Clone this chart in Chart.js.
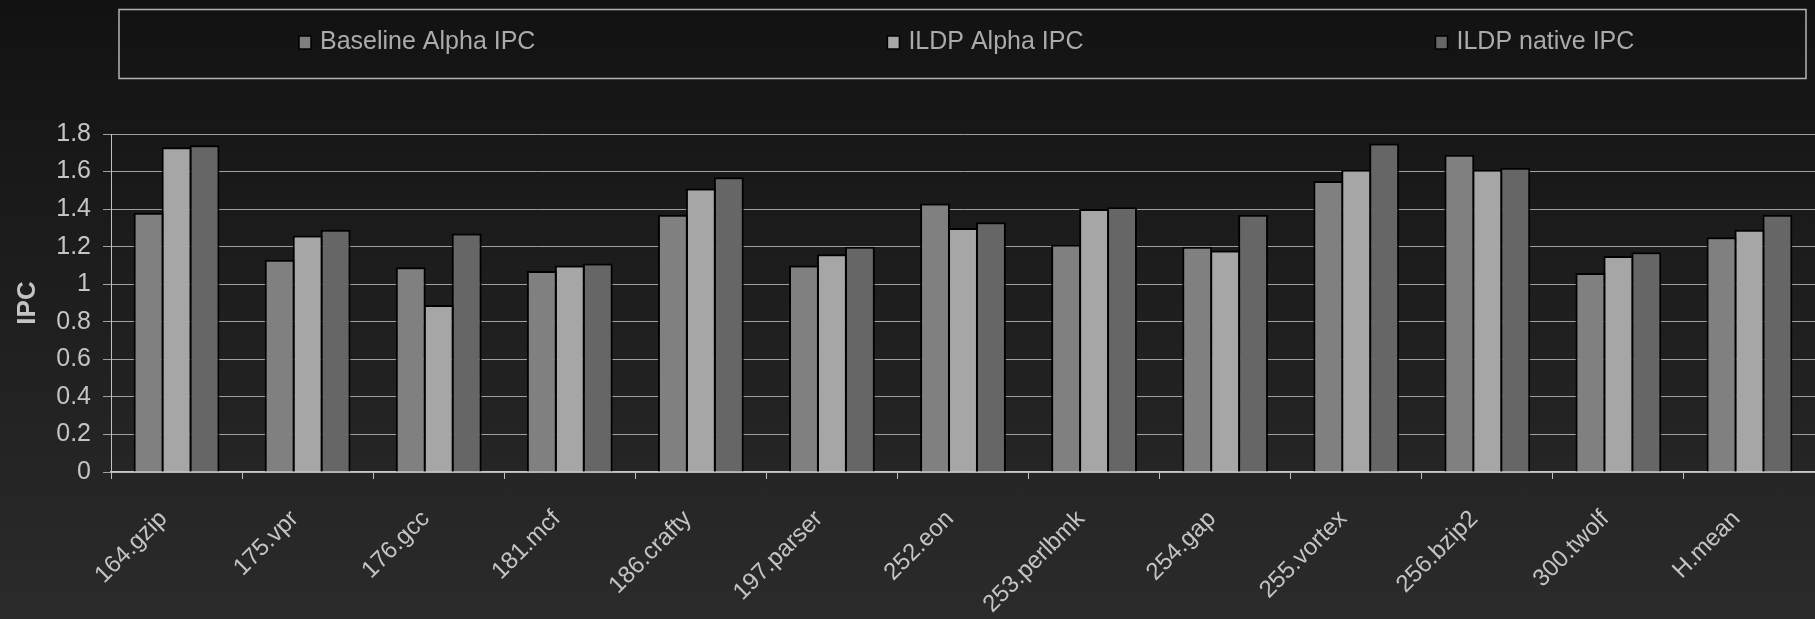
<!DOCTYPE html>
<html lang="en">
<head>
  <meta charset="UTF-8">
  <title>IPC</title>
  <script src="https://cdn.jsdelivr.net/npm/chart.js"></script>
  <style>
    html, body { margin: 0; padding: 0; }
    body {
      width: 1815px;
      height: 619px;
      overflow: hidden;
      background: linear-gradient(#121212, #2b2b2b);
    }
  </style>
</head>
<body>
  <canvas id="chart" width="1815" height="619"></canvas>

  <script>
    // Benchmarks and IPC values per configuration
    const benchmarks = ['164.gzip', '175.vpr', '176.gcc', '181.mcf', '186.crafty', '197.parser', '252.eon',
      '253.perlbmk', '254.gap', '255.vortex', '256.bzip2', '300.twolf', 'H.mean'];
    const baselineAlpha = [1.38, 1.13, 1.09, 1.07, 1.37, 1.10, 1.43, 1.21, 1.20, 1.55, 1.69, 1.06, 1.25];
    const ildpAlpha     = [1.73, 1.26, 0.89, 1.10, 1.51, 1.16, 1.30, 1.40, 1.18, 1.61, 1.61, 1.15, 1.29];
    const ildpNative    = [1.74, 1.29, 1.27, 1.11, 1.57, 1.20, 1.33, 1.41, 1.37, 1.75, 1.62, 1.17, 1.37];
    const seriesNames   = ['Baseline Alpha IPC', 'ILDP Alpha IPC', 'ILDP native IPC'];
    const seriesColors  = ['#808080', '#a6a6a6', '#666666'];

    const FONT = '"Liberation Sans", Arial, sans-serif';
    const TEXT = '#c4c4c4';

    // legend drawn by hand: framed box, items spread wide
    const boxLegend = {
      id: 'boxLegend',
      afterDraw(chart) {
        const { ctx, chartArea } = chart;
        const left = chartArea.left + 8, right = chartArea.right - 9;
        const top = 9.5, bottom = 78.5;
        ctx.save();
        ctx.strokeStyle = '#b4b4b4';
        ctx.lineWidth = 1.5;
        ctx.strokeRect(left, top, right - left, bottom - top);

        ctx.font = '25px ' + FONT;
        ctx.textBaseline = 'middle';
        const sw = 12, sgap = 9, gap = 352;
        const items = chart.data.datasets.map(ds => ({
          label: ds.label, color: ds.backgroundColor, w: ctx.measureText(ds.label).width
        }));
        let x = left + 180;
        const y = 42;
        items.forEach(it => {
          ctx.fillStyle = it.color;
          ctx.fillRect(x, y - 6, sw, 13);
          ctx.strokeStyle = '#000';
          ctx.lineWidth = 1.5;
          ctx.strokeRect(x, y - 6, sw, 13);
          ctx.fillStyle = '#ababab';
          ctx.fillText(it.label, x + sw + sgap, y);
          x += sw + sgap + it.w + gap;
        });
        ctx.restore();
      }
    };

    const series = [baselineAlpha, ildpAlpha, ildpNative];

    new Chart(document.getElementById('chart'), {
      type: 'bar',
      data: {
        labels: benchmarks,
        datasets: series.map((values, i) => ({
          label: seriesNames[i],
          data: values,
          backgroundColor: seriesColors[i],
          borderColor: '#000',
          borderWidth: 2,
          borderSkipped: 'bottom',
          categoryPercentage: 0.64,
          barPercentage: 1.07
        }))
      },
      options: {
        responsive: false,
        animation: false,
        layout: { padding: { top: 134, left: 0, right: 0, bottom: 0 } },
        plugins: {
          legend: { display: false },
          tooltip: { enabled: false }
        },
        scales: {
          x: {
            offset: true,
            grid: {
              offset: true,
              drawOnChartArea: false,
              drawTicks: true,
              tickLength: 7,
              tickColor: '#c0c0c0'
            },
            border: { color: '#c8c8c8', width: 1.5 },
            ticks: {
              color: TEXT,
              font: { family: FONT, size: 24 },
              minRotation: 45,
              maxRotation: 45,
              autoSkip: false,
              padding: 26,
              labelOffset: -13
            },
            afterFit(scale) { scale.height = 147; }
          },
          y: {
            min: 0,
            max: 1.8,
            grid: {
              color: '#a0a0a0',
              lineWidth: 1,
              tickLength: 8,
              tickColor: '#a0a0a0'
            },
            border: { color: '#c0c0c0', width: 1 },
            ticks: {
              stepSize: 0.2,
              color: TEXT,
              font: { family: FONT, size: 25 },
              padding: 12,
              callback: v => String(+v.toFixed(1))
            },
            title: {
              display: true,
              text: 'IPC',
              color: TEXT,
              font: { family: FONT, size: 26, weight: 'bold' },
              padding: { top: 12, bottom: 0 }
            },
            afterFit(scale) { scale.width = 111; }
          }
        }
      },
      plugins: [boxLegend]
    });
  </script>
</body>
</html>
